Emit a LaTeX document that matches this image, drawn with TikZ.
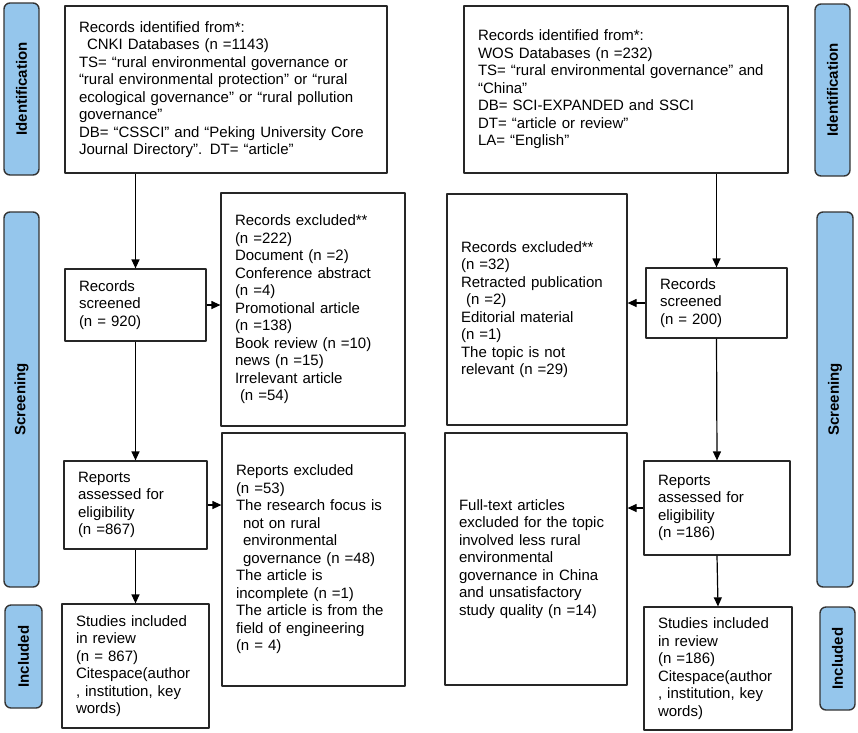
\documentclass[tikz,border=0pt]{standalone}
\usepackage{fontspec}
\setmainfont{Liberation Sans}
\usetikzlibrary{arrows.meta}
\definecolor{stageblue}{RGB}{149,198,236}
\begin{document}
\begin{tikzpicture}[x=1pt,y=-1pt,>={Triangle[length=9pt,width=8pt]}, line join=round,
	font=\fontsize{15}{17.5}\selectfont,
	box/.style={draw=black!85,line width=1.2pt,inner sep=0pt,align=left},
	sz/.style n args={3}{minimum width=#1pt,minimum height=#2pt,text width=#3pt},
	stage/.style={draw=black!80,line width=1.4pt,fill=stageblue,rounded corners=6pt,
		font=\fontsize{15}{17.5}\selectfont\bfseries,rotate=90,inner sep=0pt},
	link/.style={->,line width=1.2pt}]
	\useasboundingbox (0,0) rectangle (858,732);
	% stages
	\node[stage,minimum width=172pt,minimum height=35pt] (sIdL) at (21.5,89) {Identification};
	\node[stage,minimum width=375pt,minimum height=35pt] (sScL) at (21.5,399.5) {Screening};
	\node[stage,minimum width=103pt,minimum height=37pt] (sInL) at (23.5,656.5) {Included};
	\node[stage,minimum width=172pt,minimum height=35pt] (sIdR) at (832.5,90) {Identification};
	\node[stage,minimum width=375pt,minimum height=36pt] (sScR) at (835,399.5) {Screening};
	\node[stage,minimum width=103pt,minimum height=35pt] (sInR) at (837.5,658.5) {Included};
	% CNKI
	\node[box,sz={322}{167}{294}] (idL) at (226,89.5) {Records identified from*:\\
		\hspace*{8pt}CNKI Databases (n =1143)\\
		TS= “rural environmental governance or\\
		“rural environmental protection” or “rural\\
		ecological governance” or “rural pollution\\
		governance”\\
		DB= “CSSCI” and “Peking University Core\\
		Journal Directory”. DT= “article”};
	\node[box,sz={141}{72}{113}] (scrL) at (135.5,305) {Records\\ screened\\ (n = 920)};
	\node[box,sz={184}{233}{156}] (exL) at (313,309.5) {Records excluded**\\ (n =222)\\
		Document (n =2)\\ Conference abstract\\ (n =4)\\ Promotional article\\ (n =138)\\
		Book review (n =10)\\ news (n =15)\\ Irrelevant article\\ \hspace*{5pt}(n =54)};
	\node[box,sz={143}{88}{115}] (assL) at (135.5,505) {Reports\\ assessed for\\ eligibility\\ (n =867)};
	\node[box,sz={183}{253}{155}] (repexL) at (313.5,559.5) {Reports excluded\\ (n =53)\\
		The research focus is\\ \hspace*{7pt}not on rural\\ \hspace*{7pt}environmental\\
		\hspace*{7pt}governance (n =48)\\ The article is\\ incomplete (n =1)\\
		The article is from the\\ field of engineering\\ (n = 4)};
	\node[box,sz={147}{124}{119}] (incL) at (135.5,666) {Studies included\\ in review\\ (n = 867)\\
		Citespace(author\\ , institution, key\\ words)};
	% WOS
	\node[box,sz={324}{167}{296}] (idR) at (626,89.5) {Records identified from*:\\
		WOS Databases (n =232)\\
		TS= “rural environmental governance” and\\
		“China”\\
		DB= SCI-EXPANDED and SSCI\\
		DT= “article or review”\\
		LA= “English”};
	\node[box,sz={141}{70}{113}] (scrR) at (716.5,303) {Records\\ screened\\ (n = 200)};
	\node[box,sz={180}{231}{152}] (exR) at (537,309.5) {Records excluded**\\ (n =32)\\
		Retracted publication\\ \hspace*{5pt}(n =2)\\ Editorial material\\ (n =1)\\
		The topic is not\\ relevant (n =29)};
	\node[box,sz={146}{94}{118}] (assR) at (717,508) {Reports\\ assessed for\\ eligibility\\ (n =186)};
	\node[box,sz={182}{252}{154}] (ftR) at (536,559) {Full-text articles\\ excluded for the topic\\
		involved less rural\\ environmental\\ governance in China\\ and unsatisfactory\\
		study quality (n =14)};
	\node[box,sz={148}{123}{120}] (incR) at (718,668.5) {Studies included\\ in review\\ (n =186)\\
		Citespace(author\\ , institution, key\\ words)};
	% arrows
	\draw[link] (scrL.north |- idL.south) -- (scrL.north);
	\draw[link] (scrL.east) -- (scrL.east -| exL.west);
	\draw[link] (scrL.south) -- (assL.north);
	\draw[link] (assL.east) -- (assL.east -| repexL.west);
	\draw[link] (assL.south) -- (incL.north);
	\draw[link] (scrR.north |- idR.south) -- (scrR.north);
	\draw[link] (scrR.west) -- (scrR.west -| exR.east);
	\draw[link] (scrR.south) -- (assR.north);
	\draw[link] (assR.west) -- (assR.west -| ftR.east);
	\draw[link] (assR.south) -- (incR.north);
\end{tikzpicture}
\end{document}
